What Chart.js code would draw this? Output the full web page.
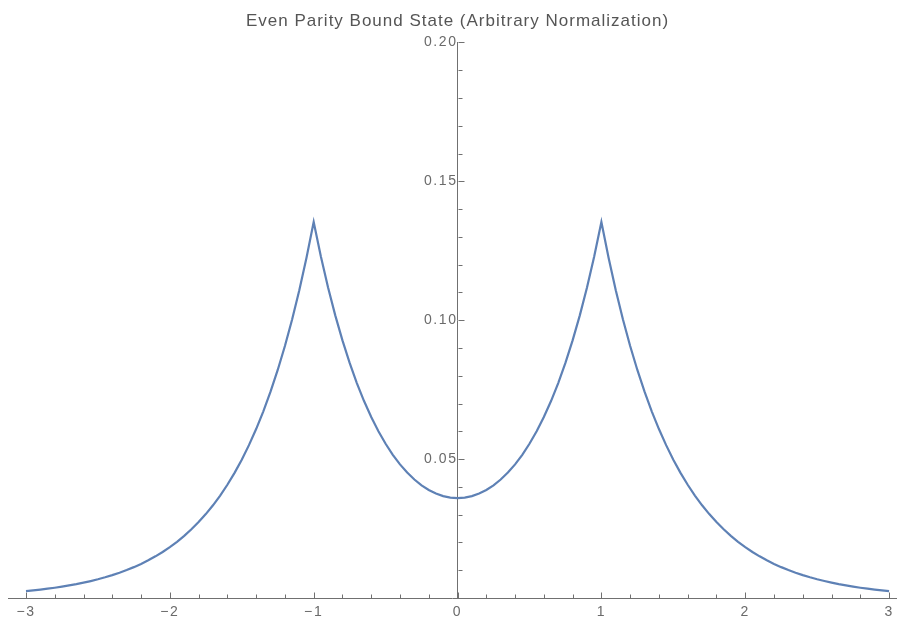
<!DOCTYPE html>
<html>
<head>
<meta charset="utf-8">
<title>Even Parity Bound State</title>
<script src="https://cdn.jsdelivr.net/npm/chart.js@4.4.1/dist/chart.umd.min.js"></script>
<style>
  html, body { margin: 0; padding: 0; background: #fff; }
  #chart { display: block; }
</style>
</head>
<body>
<canvas id="chart" width="899" height="617"></canvas>
<script>
// values, x from -3 to 3
var xValues = [
  -3.00, -2.95, -2.90, -2.85, -2.80, -2.75, -2.70, -2.65, -2.60, -2.55,
  -2.50, -2.45, -2.40, -2.35, -2.30, -2.25, -2.20, -2.15, -2.10, -2.05,
  -2.00, -1.95, -1.90, -1.85, -1.80, -1.75, -1.70, -1.65, -1.60, -1.55,
  -1.50, -1.45, -1.40, -1.35, -1.30, -1.25, -1.20, -1.15, -1.10, -1.05,
  -1.00, -0.95, -0.90, -0.85, -0.80, -0.75, -0.70, -0.65, -0.60, -0.55,
  -0.50, -0.45, -0.40, -0.35, -0.30, -0.25, -0.20, -0.15, -0.10, -0.05,
   0.00,
   0.05,  0.10,  0.15,  0.20,  0.25,  0.30,  0.35,  0.40,  0.45,  0.50,
   0.55,  0.60,  0.65,  0.70,  0.75,  0.80,  0.85,  0.90,  0.95,  1.00,
   1.05,  1.10,  1.15,  1.20,  1.25,  1.30,  1.35,  1.40,  1.45,  1.50,
   1.55,  1.60,  1.65,  1.70,  1.75,  1.80,  1.85,  1.90,  1.95,  2.00,
   2.05,  2.10,  2.15,  2.20,  2.25,  2.30,  2.35,  2.40,  2.45,  2.50,
   2.55,  2.60,  2.65,  2.70,  2.75,  2.80,  2.85,  2.90,  2.95,  3.00
];
var psiValues = [
  0.00248, 0.00274, 0.00303, 0.00335, 0.00370, 0.00409, 0.00452, 0.00499, 0.00552, 0.00610,
  0.00674, 0.00745, 0.00823, 0.00910, 0.01005, 0.01111, 0.01228, 0.01357, 0.01500, 0.01657,
  0.01832, 0.02024, 0.02237, 0.02472, 0.02732, 0.03020, 0.03337, 0.03688, 0.04076, 0.04505,
  0.04979, 0.05502, 0.06081, 0.06721, 0.07427, 0.08209, 0.09072, 0.10026, 0.11080, 0.12246,
  0.13534, 0.12294, 0.11178, 0.10174, 0.09272, 0.08462, 0.07737, 0.07090, 0.06513, 0.06002,
  0.05551, 0.05155, 0.04811, 0.04515, 0.04264, 0.04056, 0.03889, 0.03760, 0.03669, 0.03615,
  0.03597,
  0.03615, 0.03669, 0.03760, 0.03889, 0.04056, 0.04264, 0.04515, 0.04811, 0.05155, 0.05551,
  0.06002, 0.06513, 0.07090, 0.07737, 0.08462, 0.09272, 0.10174, 0.11178, 0.12294, 0.13534,
  0.12246, 0.11080, 0.10026, 0.09072, 0.08209, 0.07427, 0.06721, 0.06081, 0.05502, 0.04979,
  0.04505, 0.04076, 0.03688, 0.03337, 0.03020, 0.02732, 0.02472, 0.02237, 0.02024, 0.01832,
  0.01657, 0.01500, 0.01357, 0.01228, 0.01111, 0.01005, 0.00910, 0.00823, 0.00745, 0.00674,
  0.00610, 0.00552, 0.00499, 0.00452, 0.00409, 0.00370, 0.00335, 0.00303, 0.00274, 0.00248
];
var xTicks = [-3, -2, -1, 0, 1, 2, 3];
var xTickLabels = ["\u22123", "\u22122", "\u22121", "0", "1", "2", "3"];
var yTicks = [0.05, 0.10, 0.15, 0.20];
var yTickLabels = ["0.05", "0.10", "0.15", "0.20"];
var chartTitle = "Even Parity Bound State (Arbitrary Normalization)";

var axisColor = "#707070";
var labelColor = "#6a6a6a";
var fontFamily = "'Liberation Sans', Arial, sans-serif";

function setTicks(scale, values) {
    scale.ticks = values.map(function (v) { return { value: v }; });
}

// Mathematica style tick marks: drawn inward from the axes
var axisTicks = {
    id: 'axisTicks',
    beforeDatasetsDraw: function (chart) {
        var ctx = chart.ctx;
        var xs = chart.scales.x;
        var ys = chart.scales.y;
        var xAxisPx = Math.round(ys.getPixelForValue(0)) + 0.5;
        var yAxisPx = Math.round(xs.getPixelForValue(0)) + 0.5;
        ctx.save();
        ctx.strokeStyle = axisColor;
        ctx.lineWidth = 1;
        ctx.beginPath();
        for (var i = -15; i <= 15; i++) {
            var px = Math.round(xs.getPixelForValue(i * 0.2)) + 0.5;
            var len = (i % 5 === 0) ? 6 : 4;
            ctx.moveTo(px, xAxisPx);
            ctx.lineTo(px, xAxisPx - len);
        }
        for (var j = 1; j <= 20; j++) {
            var py = Math.round(ys.getPixelForValue(j * 0.01)) + 0.5;
            var ylen = (j % 5 === 0) ? 6 : 4;
            ctx.moveTo(yAxisPx, py);
            ctx.lineTo(yAxisPx + ylen, py);
        }
        ctx.stroke();
        ctx.restore();
    }
};

// wider glyph spacing, like the reference rendering
var textSpacing = {
    id: 'textSpacing',
    beforeDraw: function (chart) {
        chart.ctx.letterSpacing = '1px';
        ['x', 'y'].forEach(function (id) {
            var s = chart.scales[id];
            if (s._spaced) return;
            var orig = s.drawLabels;
            s.drawLabels = function (area) {
                var c = this.ctx;
                var prev = c.letterSpacing;
                c.letterSpacing = '1.6px';
                orig.call(this, area);
                c.letterSpacing = prev;
            };
            s._spaced = true;
        });
        // title sits a little right of the canvas centre in the original
        var t = chart.titleBlock;
        if (t && !t._shifted) {
            var origDraw = t.draw;
            t.draw = function () {
                var c = this.ctx;
                c.save();
                c.translate(5, 0);
                origDraw.apply(this, arguments);
                c.restore();
            };
            t._shifted = true;
        }
    }
};

var points = xValues.map(function (x, i) { return { x: x, y: psiValues[i] }; });

var myChart = new Chart(document.getElementById('chart'), {
    type: 'line',
    data: {
        datasets: [{
            data: points,
            borderColor: '#5E81B5',
            borderWidth: 2.2,
            pointRadius: 0,
            tension: 0,
            fill: false
        }]
    },
    options: {
        responsive: false,
        animation: false,
        layout: { padding: { left: 8, right: 2, top: 0, bottom: 19 } },
        plugins: {
            legend: { display: false },
            tooltip: { enabled: false },
            title: {
                display: true,
                text: chartTitle,
                color: '#555555',
                font: { family: fontFamily, size: 17, weight: 'normal' },
                padding: { top: 11, bottom: 11 }
            }
        },
        scales: {
            x: {
                type: 'linear',
                min: -3.125,
                max: 3.05,
                position: { y: 0 },
                grid: { display: false, drawTicks: false },
                border: { display: true, color: axisColor, width: 1 },
                afterBuildTicks: function (s) { setTicks(s, xTicks); },
                ticks: {
                    padding: 6,
                    color: labelColor,
                    font: { family: fontFamily, size: 14 },
                    maxRotation: 0,
                    autoSkip: false,
                    callback: function (v) { return xTickLabels[xTicks.indexOf(v)]; }
                }
            },
            y: {
                type: 'linear',
                min: 0,
                max: 0.2,
                position: { x: 0 },
                grid: { display: false, drawTicks: false },
                border: { display: true, color: axisColor, width: 1 },
                afterBuildTicks: function (s) { setTicks(s, yTicks); },
                ticks: {
                    padding: 5,
                    color: labelColor,
                    font: { family: fontFamily, size: 14 },
                    autoSkip: false,
                    callback: function (v) {
                        var k = yTicks.findIndex(function (t) { return Math.abs(t - v) < 1e-9; });
                        return k >= 0 ? yTickLabels[k] : '';
                    }
                }
            }
        }
    },
    plugins: [axisTicks, textSpacing]
});
</script>
</body>
</html>
